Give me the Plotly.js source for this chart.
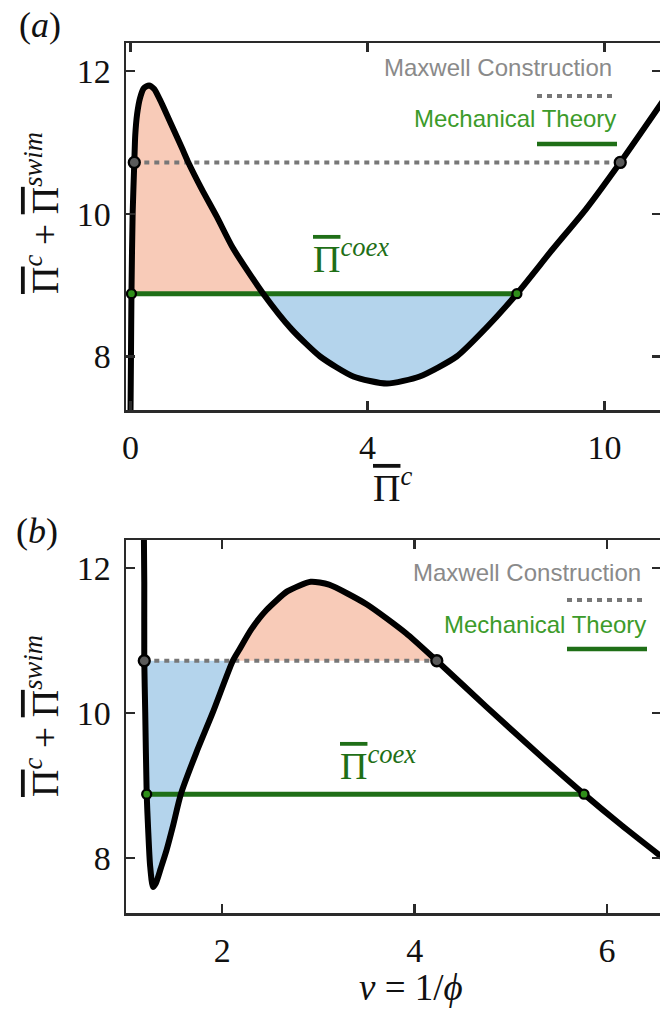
<!DOCTYPE html>
<html><head><meta charset="utf-8">
<script src="https://cdn.plot.ly/plotly-3.0.1.min.js"></script>
<style>html,body{margin:0;padding:0;overflow:hidden;background:#fff}</style>
</head><body><div id="chart" style="width:664px;height:1014px"></div>
<script>
// ---------- data ----------
// panel (a): x in axis-position units (ticks equally spaced, labelled 0, 4, 10)
const topCurveX = [0.0, 0.01, 0.02, 0.045, 0.08, 0.1, 0.14, 0.2, 0.28, 0.39, 0.5, 0.62, 0.76, 0.93, 1.1, 1.22, 1.5, 1.82, 2.16, 2.8, 3.4, 4.0, 4.7, 5.41, 6.1, 6.88, 7.5, 8.15, 8.9, 9.6, 10.33, 11.25];
const topCurveY = [7.2, 8.0, 8.88, 10.0, 10.72, 11.1, 11.4, 11.62, 11.76, 11.8, 11.75, 11.6, 11.4, 11.15, 10.9, 10.72, 10.35, 9.96, 9.52, 8.88, 8.38, 8.0, 7.72, 7.62, 7.72, 8.0, 8.4, 8.88, 9.5, 10.06, 10.72, 11.6];
const topMaxwellX = [0.08, 10.33];
const topCoexX = [0.02, 8.15];
const topTickVals = [0, 5, 10];
const topTickText = ['0', '4', '10'];

// panel (b): v = 1/phi
const botCurveX = [1.185, 1.19, 1.19, 1.2, 1.215, 1.23, 1.25, 1.28, 1.31, 1.36, 1.42, 1.49, 1.57, 1.73, 1.9, 2.11, 2.18, 2.3, 2.46, 2.68, 2.92, 3.11, 3.5, 3.91, 4.23, 4.74, 5.33, 5.76, 6.15, 6.6];
const botCurveY = [12.6, 11.8, 10.72, 10.0, 8.88, 8.4, 7.9, 7.6, 7.65, 7.85, 8.1, 8.45, 8.88, 9.45, 10.0, 10.72, 10.88, 11.15, 11.42, 11.68, 11.81, 11.77, 11.5, 11.1, 10.72, 10.09, 9.38, 8.88, 8.45, 7.98];
const botMaxwellX = [1.19, 4.23];
const botCoexX = [1.215, 5.76];
const botTickVals = [2, 4, 6];

const maxwellLevel = 10.72;
const coexLevel = 8.88;
const yTickVals = [8, 10, 12];

// ---------- styling ----------
const W = 664, H = 1014, ML = 126, MR = 3;
const PW = W - ML - MR;
const px = p => (p - ML) / PW;
const py = p => (H - p) / H;
const PINK = '#f8cbb8', BLUE = '#b4d4ec';
const GREEN = '#1f6f17', GREENTXT = '#3c9b2a', GREY = '#777777';
const SERIF = 'Liberation Serif, serif';
const SANS = 'Liberation Sans, Arial, sans-serif';
const OV = '<span style="text-decoration:overline">Π</span>';

// split curve into regions between crossings of a level
function regions(xs, ys, L) {
  const s = y => (y >= L ? 1 : -1);
  const out = []; let cur = null;
  for (let i = 0; i < xs.length - 1; i++) {
    if (cur) cur.push([xs[i], ys[i]]);
    if (s(ys[i]) !== s(ys[i + 1])) {
      const t = (L - ys[i]) / (ys[i + 1] - ys[i]);
      const cx = xs[i] + t * (xs[i + 1] - xs[i]);
      if (cur) { cur.push([cx, L]); out.push(cur); }
      cur = [[cx, L]];
    }
  }
  return out;
}
function fillTrace(poly, color, xa, ya) {
  return {x: poly.map(p => p[0]), y: poly.map(p => p[1]), xaxis: xa, yaxis: ya,
    mode: 'lines', fill: 'toself', fillcolor: color, line: {width: 0, color: color},
    hoverinfo: 'skip', showlegend: false};
}
const topReg = regions(topCurveX, topCurveY, coexLevel);
const botReg = regions(botCurveX, botCurveY, maxwellLevel);

function lineTrace(xs, L, color, dash, w, xa, ya) {
  return {x: xs, y: xs.map(() => L), xaxis: xa, yaxis: ya, mode: 'lines',
    line: {color: color, width: w, dash: dash}, showlegend: false, hoverinfo: 'skip'};
}
function markerTrace(xs, L, color, size, xa, ya) {
  return {x: xs, y: xs.map(() => L), xaxis: xa, yaxis: ya, mode: 'markers', cliponaxis: false,
    marker: {color: color, size: size, line: {color: '#000', width: 2.3}}, showlegend: false};
}
function curveTrace(xs, ys, xa, ya) {
  return {x: xs, y: ys, xaxis: xa, yaxis: ya, mode: 'lines', line: {color: '#000', width: 6, shape: 'spline', smoothing: 0.6},
    showlegend: false};
}

const data = [
  fillTrace(topReg[0], PINK, 'x', 'y'),
  fillTrace(topReg[1], BLUE, 'x', 'y'),
  lineTrace(topMaxwellX, maxwellLevel, GREY, '5px,5px', 4, 'x', 'y'),
  lineTrace(topCoexX, coexLevel, GREEN, 'solid', 5, 'x', 'y'),
  curveTrace(topCurveX, topCurveY, 'x', 'y'),
  markerTrace(topMaxwellX, maxwellLevel, '#5a5a5a', 11, 'x', 'y'),
  markerTrace(topCoexX, coexLevel, '#2f8f1a', 9, 'x', 'y'),

  fillTrace(botReg[0], BLUE, 'x2', 'y2'),
  fillTrace(botReg[1], PINK, 'x2', 'y2'),
  lineTrace(botMaxwellX, maxwellLevel, GREY, '5px,5px', 4, 'x2', 'y2'),
  lineTrace(botCoexX, coexLevel, GREEN, 'solid', 5, 'x2', 'y2'),
  curveTrace(botCurveX, botCurveY, 'x2', 'y2'),
  markerTrace(botMaxwellX, maxwellLevel, '#5a5a5a', 11, 'x2', 'y2'),
  markerTrace(botCoexX, coexLevel, '#2f8f1a', 9, 'x2', 'y2')
];

const axisBase = {showline: true, mirror: 'ticks', linecolor: '#2a2a2a', linewidth: 2.5,
  ticks: 'inside', ticklen: 9, tickwidth: 2.5, tickcolor: '#2a2a2a', showgrid: false, zeroline: false,
  tickfont: {family: SERIF, size: 34, color: '#111'}, ticklabelstandoff: 6, fixedrange: true};

function ann(text, x, y, size, color, extra) {
  return Object.assign({text: text, x: px(x), y: py(y), xref: 'paper', yref: 'paper', showarrow: false,
    xanchor: 'center', yanchor: 'middle', font: {family: SERIF, size: size, color: color}}, extra || {});
}

const layout = {
  width: W, height: H, margin: {l: ML, r: MR, t: 0, b: 0},
  paper_bgcolor: '#fff', plot_bgcolor: '#fff', showlegend: false,
  xaxis: Object.assign({}, axisBase, {domain: [0, 1], anchor: 'y', range: [-0.095, 11.19],
    tickmode: 'array', tickvals: topTickVals, ticktext: topTickText}),
  yaxis: Object.assign({}, axisBase, {domain: [py(410), py(43.3)], anchor: 'x', range: [7.25, 12.39],
    tickmode: 'array', tickvals: yTickVals}),
  xaxis2: Object.assign({}, axisBase, {domain: [0, 1], anchor: 'y2', range: [1.0, 6.56],
    tickmode: 'array', tickvals: botTickVals}),
  yaxis2: Object.assign({}, axisBase, {domain: [py(913), py(540)], anchor: 'x2', range: [7.24, 12.386],
    tickmode: 'array', tickvals: yTickVals}),
  shapes: [
    {type: 'line', xref: 'paper', yref: 'paper', x0: px(537), x1: px(617), y0: py(96), y1: py(96), line: {color: GREY, width: 4, dash: '5px,5px'}},
    {type: 'line', xref: 'paper', yref: 'paper', x0: px(537), x1: px(617), y0: py(144), y1: py(144), line: {color: GREEN, width: 4.5}},
    {type: 'line', xref: 'paper', yref: 'paper', x0: px(567), x1: px(647), y0: py(600), y1: py(600), line: {color: GREY, width: 4, dash: '5px,5px'}},
    {type: 'line', xref: 'paper', yref: 'paper', x0: px(567), x1: px(647), y0: py(649), y1: py(649), line: {color: GREEN, width: 4.5}}
  ],
  annotations: [
    ann('(<i>a</i>)', 40, 25, 36, '#111'),
    ann('(<i>b</i>)', 37, 531, 36, '#111'),
    ann(OV + '<sup><i>c</i></sup> + ' + OV + '<sup><i>swim</i></sup>', 42, 213, 38, '#111', {textangle: -90}),
    ann(OV + '<sup><i>c</i></sup> + ' + OV + '<sup><i>swim</i></sup>', 42, 716, 38, '#111', {textangle: -90}),
    ann(OV + '<sup><i>c</i></sup>', 392, 485, 38, '#111'),
    ann('<i>v</i> = 1/<i>ϕ</i>', 411, 987, 37, '#111'),
    ann(OV + '<sup><i>coex</i></sup>', 351, 256, 38, GREEN),
    ann(OV + '<sup><i>coex</i></sup>', 378, 763, 38, GREEN),
    ann('Maxwell Construction', 614, 67, 24, '#8a8a8a', {xanchor: 'right', font: {family: SANS, size: 24, color: '#8a8a8a'}}),
    ann('Mechanical Theory', 618, 118, 24, GREENTXT, {xanchor: 'right', font: {family: SANS, size: 24, color: GREENTXT}}),
    ann('Maxwell Construction', 643, 572, 24, '#8a8a8a', {xanchor: 'right', font: {family: SANS, size: 24, color: '#8a8a8a'}}),
    ann('Mechanical Theory', 648, 625, 24, GREENTXT, {xanchor: 'right', font: {family: SANS, size: 24, color: GREENTXT}})
  ]
};

Plotly.newPlot('chart', data, layout, {staticPlot: true, displayModeBar: false});
</script></body></html>
